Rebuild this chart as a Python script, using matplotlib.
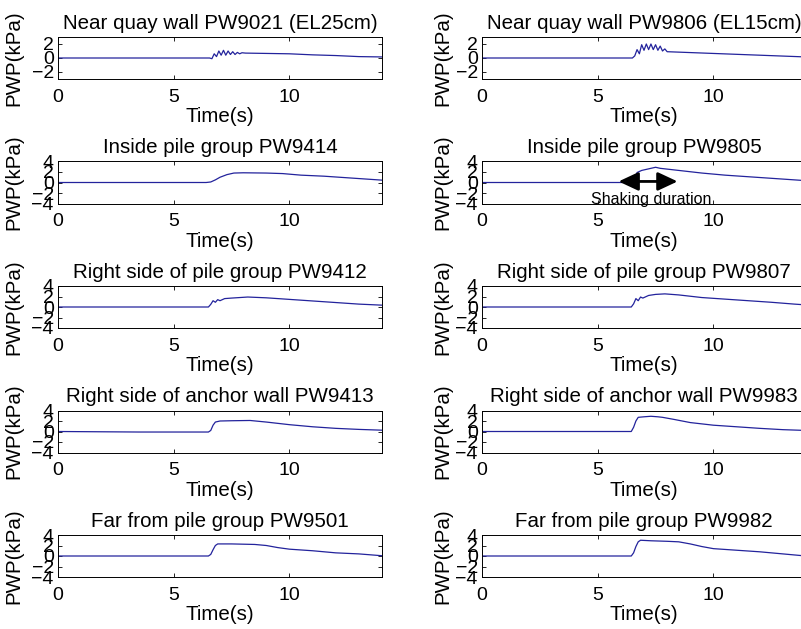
import matplotlib
matplotlib.use("Agg")
import matplotlib.pyplot as plt

# ------------------------------------------------------------
# data
# ------------------------------------------------------------

t_9021 = [0, 6.55, 6.65, 6.75, 6.85, 6.95, 7.05, 7.15, 7.25, 7.35, 7.45, 7.55, 7.65, 7.75, 7.85, 7.95, 8.1, 10, 11, 12, 13, 14]
p_9021 = [0, 0, -0.1, 0.6, 0.2, 1.0, 0.4, 1.1, 0.4, 1.0, 0.5, 0.9, 0.5, 0.8, 0.6, 0.75, 0.7, 0.6, 0.45, 0.35, 0.2, 0.15]

t_9806 = [0, 6.5, 6.6, 6.7, 6.8, 6.9, 7.0, 7.1, 7.2, 7.3, 7.4, 7.5, 7.6, 7.7, 7.8, 7.9, 8.0, 10, 12, 14]
p_9806 = [0, 0, 0.3, 1.2, 0.6, 1.9, 1.1, 2.0, 1.2, 2.0, 1.2, 1.9, 1.1, 1.7, 1.0, 1.3, 0.9, 0.65, 0.4, 0.15]

t_9414 = [0, 6.4, 6.6, 6.8, 7.0, 7.3, 7.6, 8.0, 9.0, 9.7, 10.5, 11.5, 12.5, 13.5, 14]
p_9414 = [0, 0, 0.1, 0.5, 1.0, 1.5, 1.8, 1.85, 1.8, 1.7, 1.4, 1.2, 0.9, 0.6, 0.45]

t_9805 = [0, 6.5, 6.6, 6.7, 6.9, 7.2, 7.5, 7.7, 8.5, 9.5, 10.5, 11.5, 12.5, 13.5, 14]
p_9805 = [0, 0, 0.8, 1.9, 2.3, 2.6, 2.9, 2.7, 2.3, 1.8, 1.4, 1.1, 0.8, 0.5, 0.35]

t_9412 = [0, 6.5, 6.6, 6.7, 6.8, 6.9, 7.0, 7.2, 7.5, 8.2, 9.0, 10, 11, 12, 13, 14]
p_9412 = [0, 0, 0.5, 1.2, 0.9, 1.4, 1.2, 1.6, 1.7, 1.9, 1.75, 1.45, 1.15, 0.85, 0.55, 0.35]

t_9807 = [0, 6.45, 6.55, 6.65, 6.75, 6.85, 6.95, 7.2, 7.5, 7.9, 8.5, 9.5, 10.5, 11.5, 12.5, 13.5, 14]
p_9807 = [0, 0, 0.6, 1.6, 1.2, 1.9, 1.7, 2.2, 2.4, 2.5, 2.3, 1.8, 1.5, 1.2, 0.9, 0.55, 0.4]

t_9413 = [0, 3.5, 6.5, 6.6, 6.7, 6.8, 7.0, 7.5, 8.3, 9.0, 10, 11, 12, 13, 14]
p_9413 = [0, -0.1, -0.1, 0.2, 1.2, 1.8, 2.0, 2.05, 2.1, 1.8, 1.3, 0.9, 0.6, 0.4, 0.25]

t_9983 = [0, 6.45, 6.55, 6.65, 6.75, 7.0, 7.3, 7.6, 7.8, 8.3, 9.0, 10, 11, 12, 13, 14]
p_9983 = [0, 0, 0.8, 2.0, 2.7, 2.8, 2.9, 2.8, 2.7, 2.3, 1.7, 1.2, 0.9, 0.6, 0.35, 0.2]

t_9501 = [0, 6.5, 6.6, 6.7, 6.8, 6.9, 7.5, 8.5, 9.0, 9.5, 10, 11, 12, 13, 14]
p_9501 = [0, 0, 0.3, 1.2, 2.0, 2.3, 2.3, 2.2, 2.0, 1.6, 1.3, 1.0, 0.6, 0.4, 0.05]

t_9982 = [0, 6.45, 6.55, 6.65, 6.75, 6.85, 7.3, 8.0, 8.5, 9.0, 9.5, 10, 11, 12, 13, 14]
p_9982 = [0, 0, 0.6, 1.8, 2.7, 3.0, 2.9, 2.8, 2.7, 2.3, 1.8, 1.4, 1.1, 0.8, 0.4, 0.0]

titles = [
    "Near quay wall PW9021 (EL25cm)", "Near quay wall PW9806 (EL15cm)",
    "Inside pile group PW9414", "Inside pile group PW9805",
    "Right side of pile group PW9412", "Right side of pile group PW9807",
    "Right side of anchor wall PW9413", "Right side of anchor wall PW9983",
    "Far from pile group PW9501", "Far from pile group PW9982",
]
series = [
    (t_9021, p_9021), (t_9806, p_9806),
    (t_9414, p_9414), (t_9805, p_9805),
    (t_9412, p_9412), (t_9807, p_9807),
    (t_9413, p_9413), (t_9983, p_9983),
    (t_9501, p_9501), (t_9982, p_9982),
]

# ------------------------------------------------------------
# figure layout (pixel based)
# ------------------------------------------------------------

plt.rcParams["font.family"] = ["Liberation Sans", "DejaVu Sans"]

W, H = 801, 629
fig = plt.figure(figsize=(W / 100, H / 100), dpi=100)

col_x = [58, 482]
row_top = [37, 161.5, 286, 410.5, 535]
ax_w, ax_h = 324, 42
line_color = "#23239c"

for i, (title, (t, p)) in enumerate(zip(titles, series)):
    r, c = divmod(i, 2)
    ax = fig.add_axes([col_x[c] / W, 1 - (row_top[r] + ax_h) / H, ax_w / W, ax_h / H])
    ax.plot(t, p, color=line_color, linewidth=0.9)

    ax.set_xlim(0, 14)
    ax.set_xticks([0, 5, 10])
    if r == 0:
        ax.set_ylim(-3, 3)
        ax.set_yticks([-2, 0, 2])
    else:
        ax.set_ylim(-4, 4)
        ax.set_yticks([-4, -2, 0, 2, 4])

    ax.tick_params(direction="in", top=True, right=True, length=3,
                   labelsize=14, width=0.6)
    ax.tick_params(axis="x", pad=7)
    ax.tick_params(axis="y", pad=3)
    for sp in ax.spines.values():
        sp.set_linewidth(0.7)

    ax.set_title(title, fontsize=14.8, pad=6)
    ax.set_xlabel("Time(s)", fontsize=14.8, va="top")
    ax.xaxis.set_label_coords(0.5, -0.67)
    ax.set_ylabel("PWP(kPa)", fontsize=14.8)
    ax.yaxis.set_label_coords(-0.108 if c == 0 else -0.09, 0.5)

    if i == 3:
        ax.annotate("", xy=(5.9, 0.2), xytext=(8.45, 0.2),
                    arrowprops=dict(arrowstyle="<|-|>,head_length=0.6,head_width=0.28",
                                    color="black", lw=2, mutation_scale=20,
                                    shrinkA=0, shrinkB=0))
        ax.text(7.3, -3.2, "Shaking duration", fontsize=11.5,
                ha="center", va="center")

fig.savefig("out.png", dpi=100)
